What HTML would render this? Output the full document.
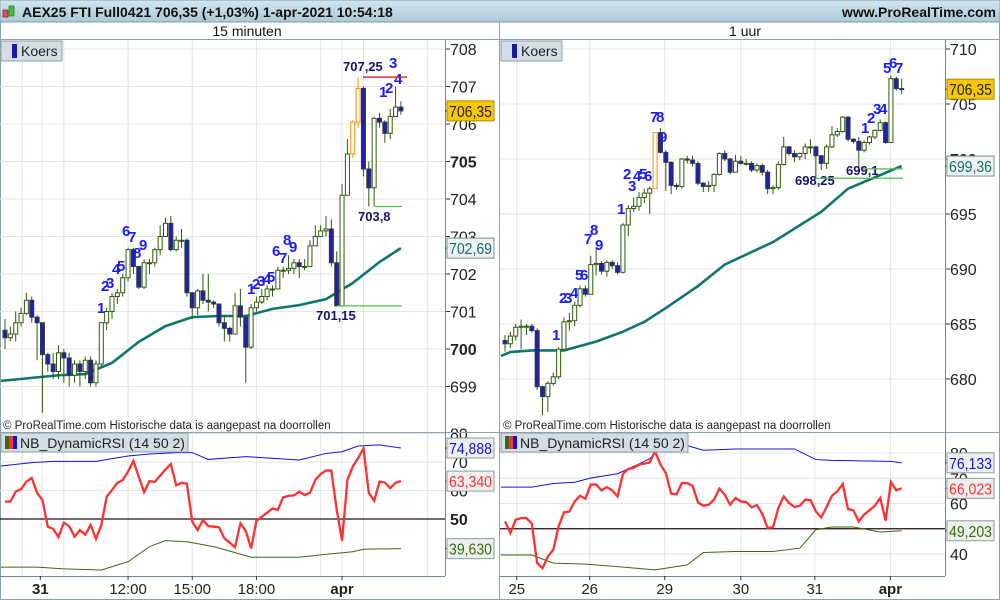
<!DOCTYPE html>
<html><head><meta charset="utf-8"><style>
body{margin:0;background:#fff;}
svg{display:block;font-family:"Liberation Sans",sans-serif;}
</style></head><body>
<svg id="chart" width="1000" height="600" viewBox="0 0 1000 600" xmlns="http://www.w3.org/2000/svg">
<defs><linearGradient id="hdr" x1="0" y1="0" x2="0" y2="1"><stop offset="0" stop-color="#d4e6ef"/><stop offset="1" stop-color="#a9c9d8"/></linearGradient></defs>
<rect x="0" y="0" width="1000" height="600" fill="#fff"/>
<rect x="0" y="0" width="1000" height="22" fill="url(#hdr)" stroke="#7f9aa8"/>
<g><rect x="3" y="10" width="5" height="7" fill="#e05050" stroke="#900" stroke-width="0.6"/><rect x="9" y="6" width="5" height="10" fill="#40c040" stroke="#060" stroke-width="0.6"/></g>
<text x="22" y="17" font-size="14" font-weight="bold" fill="#111">AEX25 FTI Full0421 706,35 (+1,03%) 1-apr-2021 10:54:18</text>
<text x="996" y="17" font-size="14" font-weight="bold" fill="#111" text-anchor="end">www.ProRealTime.com</text>
<text x="247" y="36" font-size="14" fill="#111" text-anchor="middle">15 minuten</text>
<text x="745" y="36" font-size="14" fill="#111" text-anchor="middle">1 uur</text>
<line x1="0" y1="39.5" x2="1000" y2="39.5" stroke="#8aa0ab"/>
<line x1="499.5" y1="22" x2="499.5" y2="600" stroke="#8aa0ab"/>
<line x1="0.5" y1="22" x2="0.5" y2="600" stroke="#8aa0ab"/>
<line x1="999.5" y1="22" x2="999.5" y2="600" stroke="#8aa0ab"/>
<line x1="0" y1="599.5" x2="1000" y2="599.5" stroke="#8aa0ab"/>
<g id="L"></g><g id="R"></g>
</svg>
<script>
// ===== LEFT (15 min) DATA =====
const leftCloses=[700.3,700.4,700.7,700.95,701.3,700.85,700.7,699.85,699.6,699.4,
699.9,699.76,699.3,699.6,699.4,699.7,699.1,699.6,700.7,701.0,
701.4,701.5,701.9,702.65,702.2,701.65,702.3,702.3,702.65,703.0,
703.35,702.65,702.9,702.9,701.5,701.1,701.55,701.3,701.25,701.2,
700.7,700.55,700.4,701.15,700.85,700.05,701.1,701.25,701.4,701.6,
701.6,702.1,702.1,702.15,702.3,702.2,702.2,702.75,703.0,703.15,
703.2,702.3,701.15,704.1,705.2,706.05,706.95,704.8,704.3,706.15,
706.05,705.75,706.2,706.45,706.35];
const leftFirstOpen=700.5;
const leftHighs=[700.8,700.6,701.0,701.1,701.5,701.4,700.9,700.7,699.9,699.9,
700.1,700.0,699.9,699.7,699.7,699.8,699.8,699.7,700.7,701.1,
701.5,701.6,702.0,702.7,702.7,702.2,702.4,702.4,702.7,703.3,
703.5,703.55,703.0,703.2,702.95,701.5,701.6,702.0,702.0,701.3,
701.2,700.9,700.6,701.5,701.6,700.9,701.2,701.4,701.6,701.7,
701.7,702.2,702.2,702.5,702.4,702.4,702.4,702.9,703.3,703.3,
703.55,703.45,702.6,704.4,705.6,706.1,707.25,707.0,705.0,706.2,
706.3,706.1,706.4,707.0,706.6];
const leftLows=[700.0,700.2,700.2,700.6,700.9,700.7,699.7,698.3,699.4,699.2,
699.2,699.1,699.0,699.1,699.0,699.2,699.0,699.0,699.5,700.5,
700.8,701.2,701.4,701.8,702.0,701.6,701.6,702.0,702.2,702.5,
703.0,702.6,702.6,702.7,701.4,700.8,700.9,701.2,701.0,701.1,
700.6,700.2,700.2,700.4,700.6,699.1,700.0,701.0,701.2,701.3,
701.4,701.6,701.9,702.0,702.0,701.9,702.1,702.2,702.8,703.0,
703.0,702.2,701.15,702.9,704.1,705.1,705.9,704.6,703.8,703.8,
705.9,705.5,705.6,706.2,706.25];
const leftHighlight=[65,66];
const leftMAIdx=[-1,5,10,15,20,25,30,35,40,45,50,55,60,65,70,74];
const leftMAVal=[699.15,699.23,699.3,699.33,699.63,700.19,700.61,700.85,700.88,700.88,701.07,701.17,701.33,701.76,702.32,702.69];
const leftRSI=[56.1,56.1,59.6,60.5,63.1,64.4,59.1,56.7,47.3,46.5,
43.7,48.7,47.5,43.8,46.1,44.5,47.9,43.0,47.9,57.8,
60.2,62.7,63.7,66.6,70.4,64.8,59.4,63.3,63.0,65.2,
67.4,69.3,61.8,62.7,62.4,49.1,46.1,49.6,47.5,47.3,
47.1,43.2,41.7,40.1,48.5,45.8,39.7,49.4,50.8,52.2,
53.7,53.2,57.6,58.1,58.3,59.6,58.4,59.2,63.7,65.8,
67.0,67.0,53.2,42.3,63.7,68.4,71.3,74.8,59.2,56.4,
63.1,62.8,60.8,62.7,63.3];
const leftUpIdx=[-1,5,9,17,23,27,32,35,38,45,55,60,63,66,70,74];
const leftUpVal=[68.6,69.8,70.2,70.2,72.1,72.8,73.3,73.3,70.9,71.9,70.7,73.0,73.6,75.6,76.0,74.9];
const leftLoIdx=[-1,6,11,18,23,27,30,34,39,43,46,55,59,65,67,74];
const leftLoVal=[33.1,33.1,32.5,32.1,35.0,40.3,42.4,42.0,40.3,38.2,36.6,36.6,37.4,38.5,39.4,39.6];
const leftPriceTicks=[708,707,706,705,704,703,702,701,700,699];
const leftRsiTicks=[80,70,60,50];
const leftTimeLabels=["31","12:00","15:00","18:00","apr"];
const leftTimeIdx=[6.6,23,35,47,63];
const leftTimeBold=[true,false,false,false,true];

// ===== RIGHT (1 uur) DATA =====
const rightCloses=[683.2,683.9,684.7,684.8,684.8,684.4,679.3,678.4,679.6,680.2,
682.7,685.2,685.3,686.7,688.2,687.7,690.4,690.5,689.8,690.6,
690.3,689.7,694.0,695.5,695.7,696.5,696.9,697.3,702.4,700.6,
699.7,697.6,697.5,700.0,699.9,699.6,697.8,697.5,697.6,698.6,
700.5,700.0,698.8,699.8,699.6,699.6,699.0,699.4,698.8,697.3,
697.4,699.5,701.1,700.5,700.2,700.5,701.1,701.1,700.3,699.6,
701.1,702.2,702.5,703.8,701.8,701.6,700.8,701.5,702.0,702.6,
703.3,701.5,707.3,706.4,706.35];
const rightFirstOpen=683.5;
const rightHighs=[684.0,684.3,685.0,685.4,685.0,685.0,684.6,679.4,679.8,680.6,
682.9,685.6,686.0,687.0,688.5,688.5,691.2,692.0,690.7,690.8,
690.8,690.6,694.2,695.8,696.5,697.0,697.3,697.5,702.4,702.8,
700.8,699.8,697.8,700.1,700.3,700.3,699.8,697.9,698.0,698.7,
700.6,700.8,700.1,700.4,700.3,700.0,699.8,699.6,699.6,699.0,
697.6,699.8,702.0,701.2,700.8,700.6,701.4,701.8,701.2,700.3,
701.3,703.0,702.8,703.9,703.9,701.9,702.0,701.7,702.1,702.7,
703.6,703.4,707.6,707.5,707.3];
const rightLows=[682.5,682.8,683.5,682.7,684.0,684.2,679.0,676.7,677.0,679.4,
680.0,682.5,684.4,684.8,686.5,687.5,689.5,689.4,689.5,689.3,
690.0,689.5,689.6,693.0,695.2,695.3,696.0,695.0,697.3,700.5,
697.1,696.8,697.2,697.3,699.6,699.3,697.6,697.0,697.0,697.0,
698.5,699.8,698.6,698.8,699.5,699.4,698.8,698.8,698.5,696.8,
696.8,697.2,699.4,700.3,699.7,699.9,700.0,700.5,698.3,699.0,
699.1,701.0,702.0,702.4,701.6,701.4,699.2,700.6,701.3,701.8,
702.5,701.4,704.2,706.2,705.9];
const rightHighlight=[28];
const rightMAIdx=[-1,1,5,11,17,22,26,30,36,41,50,59,64,74];
const rightMAVal=[682.1,682.45,682.6,682.6,683.4,684.3,685.2,686.45,688.45,690.4,692.45,695.2,697.3,699.36];
const rightRSI=[52.9,48.3,53.6,54.2,54.2,52.0,36.4,34.4,39.0,41.7,
50.9,56.5,56.8,60.8,63.1,61.9,67.5,67.5,65.2,66.5,
65.2,62.8,71.7,73.7,74.1,75.4,75.8,76.3,80.7,75.4,
72.1,63.9,63.6,68.1,68.1,67.0,60.4,59.1,59.5,61.5,
65.9,63.5,59.5,62.2,60.8,60.6,58.5,59.4,55.9,50.3,
50.6,58.2,62.8,60.2,58.6,59.1,61.5,61.3,56.9,54.5,
58.6,63.1,64.8,67.7,57.8,57.3,52.9,55.6,57.3,59.1,
62.2,53.2,68.5,65.2,66.0];
const rightUpIdx=[-1,5,9,13,16,21,24,27,30,34,37,43,49,54,58,61,72,74];
const rightUpVal=[66.5,66.5,67.9,68.4,70.1,71.8,74.7,77.7,84.0,82.9,81.1,81.6,81.6,81.6,77.4,77.1,76.7,76.1];
const rightLoIdx=[-1,5,9,15,21,28,34,37,43,50,55,58,61,65,70,74];
const rightLoVal=[39.6,39.6,36.4,36.0,35.0,33.7,35.7,40.6,41.0,41.0,42.3,49.6,50.7,50.7,48.7,49.2];
const rightPriceTicks=[710,705,700,695,690,685,680];
const rightRsiTicks=[80,70,60,40];
const rightTimeLabels=["25","26","29","30","31","apr"];
const rightTimeIdx=[2.2,15.8,29.8,44,57.8,71.9];
const rightTimeBold=[false,false,false,false,false,true];

const NS="http://www.w3.org/2000/svg";
function mk(parent,tag,attrs,name,txt){const e=document.createElementNS(NS,tag);for(const k in attrs)e.setAttribute(k,attrs[k]);


if(txt!==undefined)e.textContent=txt;parent.appendChild(e);return e;}

function panel(g,cfg){
  const {x0,axisX,top,bot,rtop,rbot,pMax,pMin,rMax,rMin,step,first}=cfg;
  const X=i=>Math.max(x0+1,first+i*step);
  const Y=p=>top+(pMax-p)/(pMax-pMin)*(bot-top);
  const RY=v=>rtop+(rMax-v)/(rMax-rMin)*(rbot-rtop);
  cfg.vgrid.forEach(i=>mk(g,'line',{x1:X(i),x2:X(i),y1:40,y2:576,stroke:'#e4e4e4'},'v-gridline'));
  cfg.pTicks.forEach(p=>{const y=Y(p);mk(g,'line',{x1:x0,x2:axisX,y1:y,y2:y,stroke:'#e4e4e4'},'h-gridline');
    mk(g,'line',{x1:axisX,x2:axisX+5,y1:y,y2:y,stroke:'#333'},'price-tick');
    mk(g,'text',{x:axisX+5,y:y+6,'font-size':16,'font-weight':cfg.boldP.includes(p)?'bold':'normal',fill:'#222'},'price-tick-label',String(p));});
  cfg.rTicks.forEach(v=>{const y=RY(v);mk(g,'line',{x1:x0,x2:axisX,y1:y,y2:y,stroke:'#e4e4e4'},'rsi-gridline');
    mk(g,'text',{x:axisX+5,y:y+6,'font-size':16,fill:'#222','font-weight':v===50?'bold':'normal'},'rsi-tick-label',String(v));});
  const y50=RY(50);mk(g,'line',{x1:x0,x2:axisX,y1:y50,y2:y50,stroke:'#2a0a1a','stroke-width':1.2},'rsi-midline');
  mk(g,'line',{x1:x0,x2:axisX+55,y1:432.5,y2:432.5,stroke:'#8aa0ab'},'pane-separator');
  mk(g,'line',{x1:axisX+0.5,x2:axisX+0.5,y1:40,y2:576,stroke:'#6f8793'},'price-axis-line');
  mk(g,'line',{x1:x0,x2:axisX,y1:576.5,y2:576.5,stroke:'#6f8793'},'time-axis-line');
  const ma=cfg.maIdx.map((i,k)=>X(i)+','+Y(cfg.maVal[k])).join(' ');
  mk(g,'polyline',{points:ma,fill:'none',stroke:'#11756f','stroke-width':2.6},'moving-average-line');
  const C=cfg.closes,H=cfg.highs,L=cfg.lows;
  C.forEach((c,i)=>{const o=i===0?cfg.firstOpen:C[i-1];const x=X(i);
    const hl=cfg.highlight.includes(i);
    const up=c>=o;const col=hl?'#ff8c00':'#2e5a0c';
    const cg=mk(g,'g',{},'candle');
    mk(cg,'line',{x1:x,x2:x,y1:Y(H[i]),y2:Y(L[i]),stroke:col,'stroke-width':1},'candle-wick');
    const yt=Y(Math.max(o,c)),yb=Y(Math.min(o,c));
    mk(cg,'rect',{x:x-2,y:yt,width:4,height:Math.max(1,yb-yt),fill:up?'#fff':(hl?'#fff':'#2020b0'),stroke:up||hl?col:'#2e3a3c','stroke-width':1},'candle-body');});
  mk(g,'polyline',{points:cfg.upIdx.map((i,k)=>X(i)+','+RY(cfg.upVal[k])).join(' '),fill:'none',stroke:'#1010e0','stroke-width':1},'rsi-upper-band');
  mk(g,'polyline',{points:cfg.loIdx.map((i,k)=>X(i)+','+RY(cfg.loVal[k])).join(' '),fill:'none',stroke:'#3a6a0a','stroke-width':1},'rsi-lower-band');
  mk(g,'polyline',{points:cfg.rsi.map((v,i)=>X(i)+','+RY(v)).join(' '),fill:'none',stroke:'#ff3030','stroke-width':2.3},'rsi-line');
  cfg.tLabels.forEach((t,k)=>{const x=X(cfg.tIdx[k]);mk(g,'line',{x1:x,x2:x,y1:576,y2:580,stroke:'#333'},'time-tick');
    mk(g,'text',{x:x,y:594,'font-size':15,'text-anchor':'middle','font-weight':cfg.tBold[k]?'bold':'normal',fill:'#222'},'time-label',t);});
  mk(g,'rect',{x:x0+1,y:41,width:61,height:20,fill:'#d3dde3',stroke:'#8aa0ab'},'koers-legend');
  mk(g,'rect',{x:x0+12,y:44,width:5,height:14,fill:'#1a1aa0'},'koers-legend-swatch');
  mk(g,'text',{x:x0+21,y:56,'font-size':14,fill:'#222'},'koers-legend-label','Koers');
  mk(g,'text',{x:x0+3,y:429,'font-size':11.5,fill:'#222'},'copyright-note','© ProRealTime.com  Historische data is aangepast na doorrollen');
  mk(g,'rect',{x:x0+1,y:433,width:187,height:19,fill:'#d3dde3',stroke:'#8aa0ab'},'rsi-legend');
  mk(g,'rect',{x:x0+5,y:436,width:4,height:13,fill:'#3a6a0a'},'rsi-legend-swatch');
  mk(g,'rect',{x:x0+9,y:436,width:4,height:13,fill:'#ff3030'},'rsi-legend-swatch');
  mk(g,'rect',{x:x0+13,y:436,width:4,height:13,fill:'#1010e0'},'rsi-legend-swatch');
  mk(g,'text',{x:x0+20,y:448,'font-size':14,fill:'#222'},'rsi-legend-label','NB_DynamicRSI (14 50 2)');
  function tag(y,txt,fill,stroke,col,name){mk(g,'line',{x1:axisX,x2:axisX+5,y1:y,y2:y,stroke:col},name+'-tick');
    mk(g,'rect',{x:axisX+2,y:y-10,width:47,height:20,fill:fill,stroke:stroke},name+'-box');
    mk(g,'text',{x:axisX+4,y:y+6,'font-size':15.5,fill:col,textLength:43,lengthAdjust:'spacingAndGlyphs'},name+'-text',txt);}
  const lc=C[C.length-1];
  tag(Y(cfg.maVal[cfg.maVal.length-1]),cfg.maVal[cfg.maVal.length-1].toFixed(2).replace('.',','),'#eef2f2','#7a9090','#1a6a6a','ma-value-tag');
  tag(Y(lc),lc.toFixed(2).replace('.',','),'#f7c800','#b08a00','#222','price-value-tag');
  tag(RY(cfg.rsi[cfg.rsi.length-1]),cfg.rsiTag,'#eef0f0','#8a9a9a','#ff3030','rsi-value-tag');
  tag(RY(cfg.upVal[cfg.upVal.length-1]),cfg.upTag,'#eef0f0','#8a9a9a','#1010e0','upper-band-tag');
  tag(RY(cfg.loVal[cfg.loVal.length-1]),cfg.loTag,'#eef0f0','#8a9a9a','#3a6a0a','lower-band-tag');
  cfg.ann.forEach(a=>mk(g,'text',{x:a[0],y:a[1],'font-size':a[3]||15,'font-weight':'bold',fill:a[4]||'#1a1aff'},'setup-count-label',a[2]));
  cfg.lines.forEach(l=>mk(g,'line',{x1:l[0],x2:l[1],y1:Y(l[2]),y2:Y(l[2]),stroke:l[3],'stroke-width':1.2},'level-line'));
}

panel(document.getElementById('L'),{x0:0,axisX:445,top:49,bot:349,pMax:708,pMin:700,rtop:433.5,rbot:519,rMax:80,rMin:50,step:5.35,first:5,
 closes:leftCloses,highs:leftHighs,lows:leftLows,firstOpen:leftFirstOpen,highlight:leftHighlight,maIdx:leftMAIdx,maVal:leftMAVal,
 rsi:leftRSI,upIdx:leftUpIdx,upVal:leftUpVal,loIdx:leftLoIdx,loVal:leftLoVal,pTicks:leftPriceTicks,rTicks:leftRsiTicks,boldP:[705,700],
 vgrid:[3.2,6.9,11,23,35,47,59,63,67,79],tLabels:leftTimeLabels,tIdx:leftTimeIdx,tBold:leftTimeBold,
 rsiTag:'63,340',upTag:'74,888',loTag:'39,630',
 ann:[[343,71,'707,25',13,'#14146e'],[389,68,'3'],[394,84,'4'],[379,97,'1'],[385,93,'2'],[358,221,'703,8',13,'#14146e'],[316,320,'701,15',13,'#14146e'],
 [97,313,'1'],[101,291,'2'],[106,288,'3'],[112,274,'4'],[117,271,'5'],[122,236,'6'],[128,242,'7'],[133,258,'8'],[139,250,'9'],
 [247,294,'1'],[252,289,'2'],[257,286,'3'],[263,284,'4'],[267,282,'5'],[272,256,'6'],[279,263,'7'],[283,245,'8'],[289,252,'9']],
 lines:[[363,407,707.25,'#d01010'],[375,402,703.8,'#4cc040'],[337,402,701.15,'#4cc040']]});

panel(document.getElementById('R'),{x0:500,axisX:945,top:49,bot:379,pMax:710,pMin:680,rtop:453,rbot:554,rMax:80,rMin:40,step:5.36,first:505,
 closes:rightCloses,highs:rightHighs,lows:rightLows,firstOpen:rightFirstOpen,highlight:rightHighlight,maIdx:rightMAIdx,maVal:rightMAVal,
 rsi:rightRSI,upIdx:rightUpIdx,upVal:rightUpVal,loIdx:rightLoIdx,loVal:rightLoVal,pTicks:rightPriceTicks,rTicks:rightRsiTicks,boldP:[700],
 vgrid:[2.2,15.8,29.8,44,57.8,71.9],tLabels:rightTimeLabels,tIdx:rightTimeIdx,tBold:rightTimeBold,
 rsiTag:'66,023',upTag:'76,133',loTag:'49,203',
 ann:[[552,340,'1'],[559,303,'2'],[564,303,'3'],[570,298,'4'],[575,280,'5'],[580,280,'6'],[584,244,'7'],[590,235,'8'],[595,250,'9'],
 [617,214,'1'],[623,179,'2'],[628,191,'3'],[633,181,'4'],[639,179,'5'],[644,181,'6'],[650,122,'7'],[656,122,'8'],[659,142,'9'],
 [861,133,'1'],[867,123,'2'],[873,114,'3'],[879,114,'4'],[883,73,'5'],[889,68,'6'],[895,73,'7'],
 [795,185,'698,25',13,'#14146e'],[846,175,'699,1',13,'#14146e']],
 lines:[[815,903,698.25,'#4cc040'],[863,903,699.1,'#4cc040']]});
</script>
</body></html>
